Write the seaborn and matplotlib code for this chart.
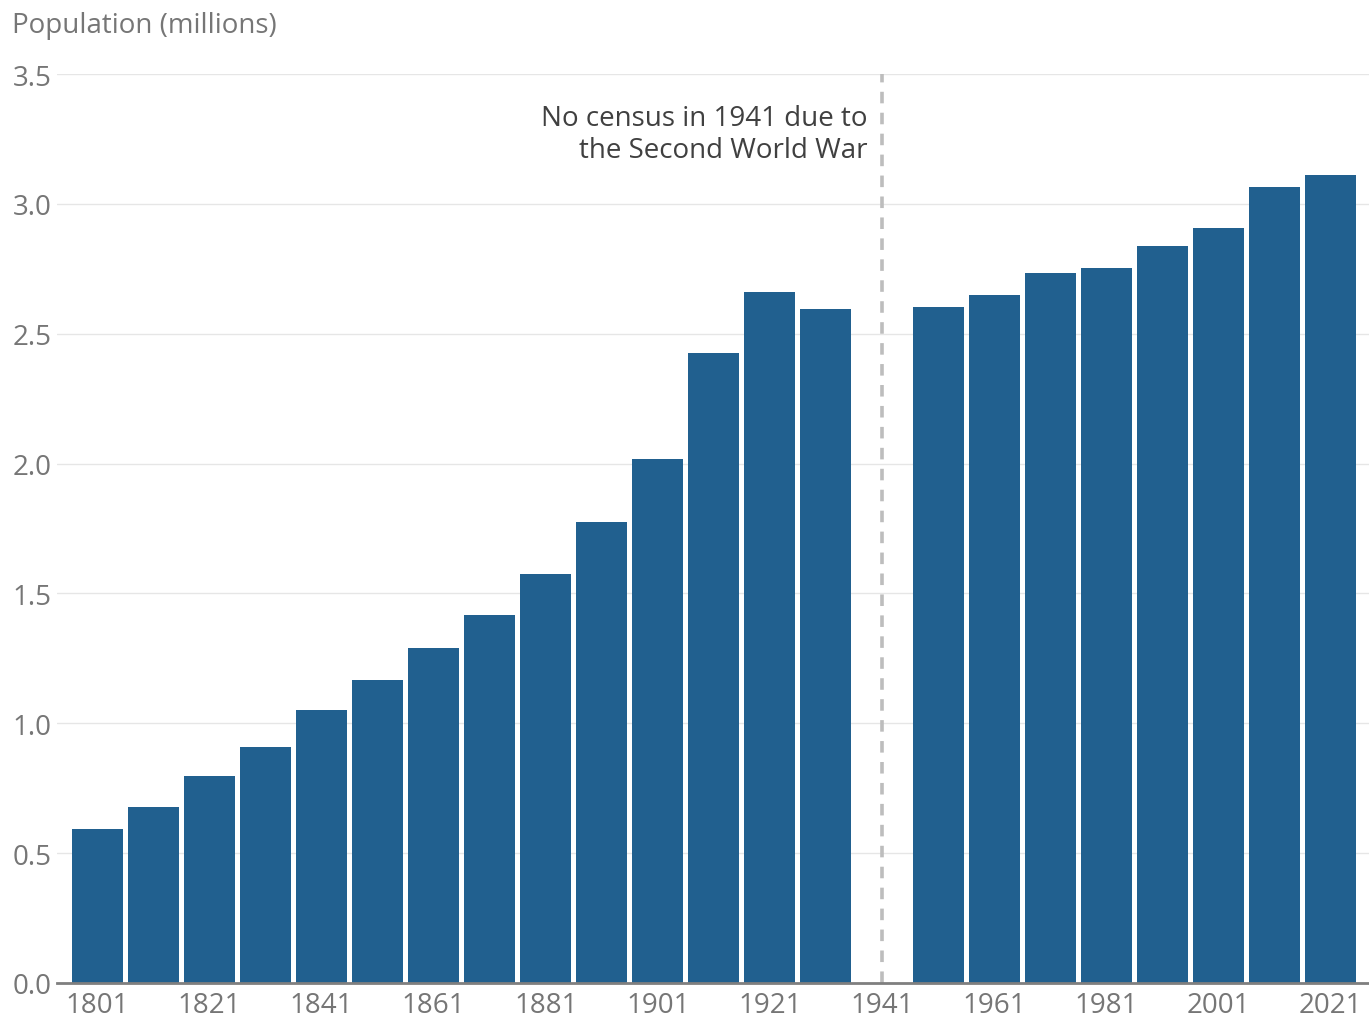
import matplotlib
matplotlib.use("Agg")
import matplotlib.pyplot as plt
import seaborn as sns
import numpy as np
import pandas as pd

years = [str(y) for y in range(1801, 2031, 10)]
population = [0.593, 0.678, 0.797, 0.909, 1.051, 1.167, 1.290, 1.417, 1.575,
              1.775, 2.018, 2.426, 2.661, 2.595, np.nan, 2.603, 2.649, 2.734,
              2.753, 2.838, 2.907, 3.065, 3.111]
tick_labels = [str(y) for y in range(1801, 2031, 20)]
y_ticks = [0.0, 0.5, 1.0, 1.5, 2.0, 2.5, 3.0, 3.5]
annotation = "No census in 1941 due to\nthe Second World War"

df = pd.DataFrame({"year": years, "population": population})

sns.set_theme(style="white")
plt.rcParams['font.family'] = ['Open Sans', 'DejaVu Sans']

W, H = 1369, 1020
fig = plt.figure(figsize=(W / 100, H / 100), dpi=100)
left, right, top, bottom = 57, 1369, 75, 984
ax = fig.add_axes([left / W, 1 - bottom / H, (right - left) / W, (bottom - top) / H])

sns.barplot(data=df, x="year", y="population", order=years, color="#21608f",
            saturation=1, width=0.91, ax=ax, zorder=3, linewidth=0)

ax.set_xlim(-0.72, 22.69)
ax.set_ylim(0, 3.5)
ax.set_yticks(y_ticks)
ax.set_yticklabels([f"{v:.1f}" for v in y_ticks])
ax.set_xticks([years.index(t) for t in tick_labels])
ax.set_xticklabels(tick_labels)
ax.set_xlabel("")
ax.set_ylabel("")

for s in ["top", "right", "left"]:
    ax.spines[s].set_visible(False)
ax.spines["bottom"].set_color("#7f7f7f")
ax.spines["bottom"].set_linewidth(2)
ax.spines["bottom"].set_zorder(5)

ax.grid(axis="y", color="#e6e6e6", linewidth=1, zorder=0)
ax.grid(axis="x", visible=False)

ax.tick_params(axis="y", length=0, pad=32, labelsize=20, labelcolor="#767676")
for lab in ax.get_yticklabels():
    lab.set_horizontalalignment("left")
ax.tick_params(axis="x", length=0, pad=6, labelsize=20, labelcolor="#767676")

xi = years.index("1941")
ax.axvline(xi, color="#bdbdbd", linewidth=2.6, linestyle=(0, (3.2, 2.6)), zorder=4)
ax.text(xi - 0.25, 3.385, annotation, ha="right", va="top", fontsize=20,
        color="#404040", linespacing=1.2)

fig.text(12 / W, 1 - 26 / H, "Population (millions)", ha="left", va="center",
         fontsize=20, color="#767676")

fig.savefig("out.png", dpi=100)
